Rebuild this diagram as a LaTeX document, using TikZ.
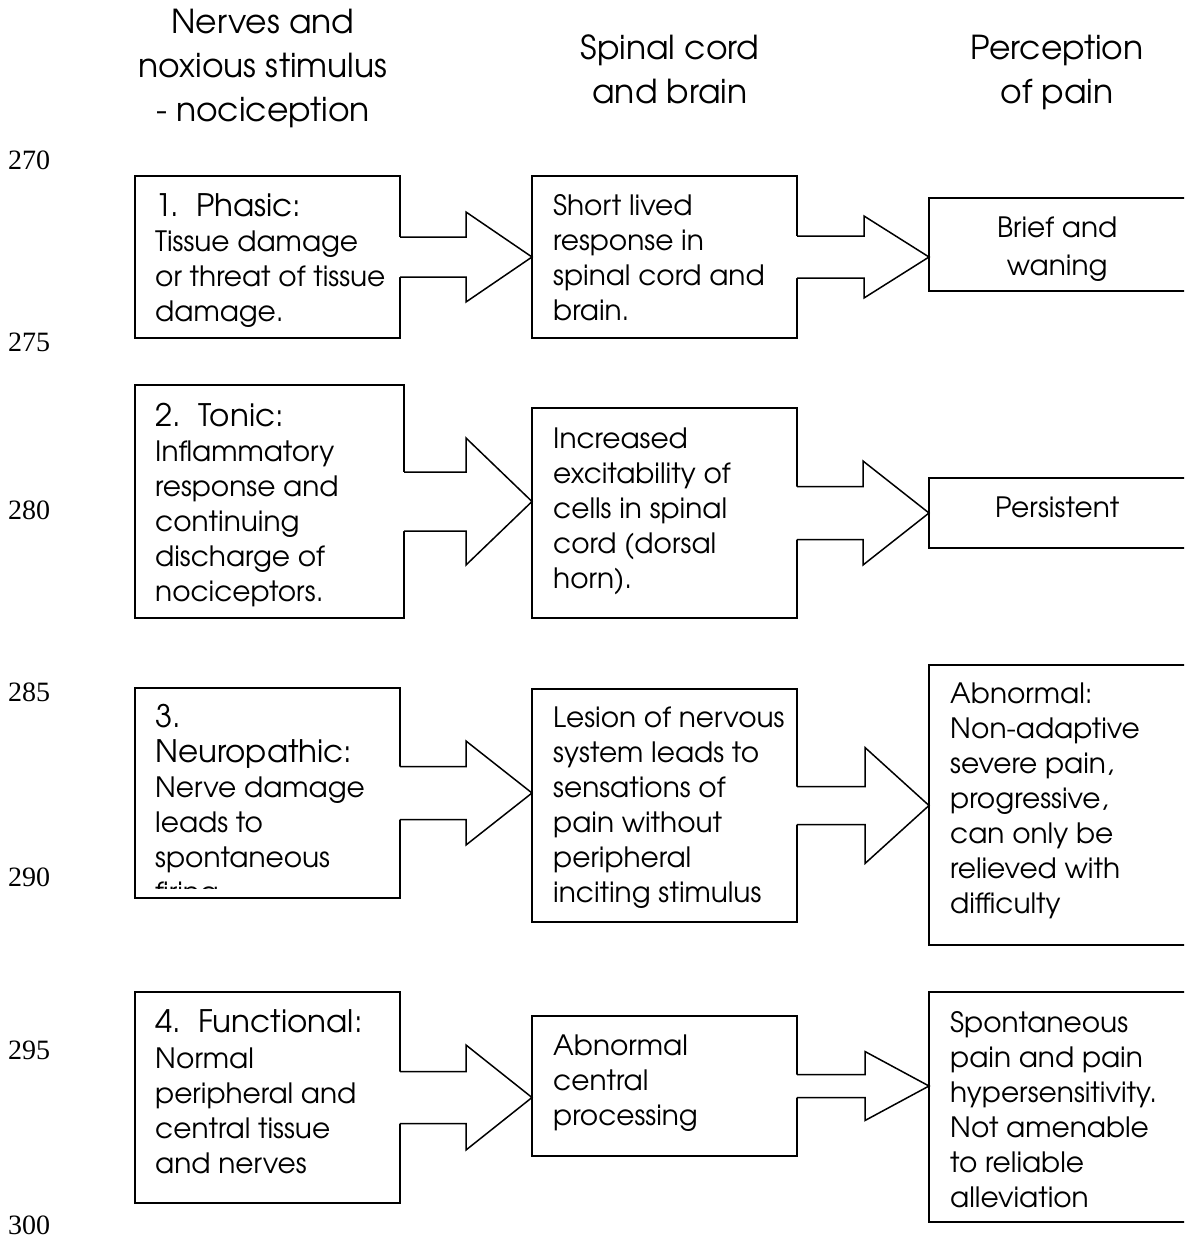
\documentclass[tikz,border=0pt]{standalone}
\usepackage{fontspec}
\setmainfont{texgyreadventor}[Extension=.otf, UprightFont=*-regular]
\newfontfamily\numfont{Liberation Serif}
\usetikzlibrary{calc}

% body text, headings of the left boxes, column titles
\newcommand{\bodyfont}{\fontsize{28}{35}\selectfont}
\newcommand{\hd}[1]{{\fontsize{31}{35}\selectfont #1}}
\newcommand{\boxtext}[2]{\parbox[t]{#1pt}{\bodyfont\raggedright #2}}
\newcommand{\ctrtext}[2]{\parbox[t]{#1pt}{\bodyfont\centering #2}}

\tikzset{
  panel/.style={draw, line width=1.5pt, inner sep=0pt, outer sep=0pt,
                anchor=north west, fill=white},
  arrowline/.style={line width=1.5pt, line join=miter},
  txt/.style={inner sep=0pt, anchor=base west},
  coltitle/.style={inner sep=0pt, align=center,
                   font=\fontsize{33}{44}\selectfont},
  lineno/.style={inner sep=0pt, anchor=west,
                 font=\numfont\fontsize{28}{28}\selectfont}
}

% block arrow from box #1 to box #2: shaft half height #3, head half height #4, head length #5
\newcommand{\fatarrow}[5]{%
  \fill[white] let \p1=(#1.east), \p2=(#1.east -| #2.west) in
    ({\x1-1pt},{\y1+#3pt}) -- ({\x2-#5pt},{\y1+#3pt}) -- ({\x2-#5pt},{\y1+#4pt})
    -- (\p2) -- ({\x2-#5pt},{\y1-#4pt}) -- ({\x2-#5pt},{\y1-#3pt})
    -- ({\x1-1pt},{\y1-#3pt}) -- cycle;
  \draw[arrowline] let \p1=(#1.east), \p2=(#1.east -| #2.west) in
    ({\x1},{\y1+#3pt}) -- ({\x2-#5pt},{\y1+#3pt}) -- ({\x2-#5pt},{\y1+#4pt})
    -- (\p2) -- ({\x2-#5pt},{\y1-#4pt}) -- ({\x2-#5pt},{\y1-#3pt})
    -- ({\x1},{\y1-#3pt});
}

\begin{document}
\begin{tikzpicture}[x=1pt,y=-1pt]
\useasboundingbox[fill=white] (0,0) rectangle (1184,1248);
\clip (0,0) rectangle (1184,1248);

% column titles
\node[coltitle] (T1) at (263,68) {Nerves and\\noxious stimulus\\- nociception};
\node[coltitle] (T2) at (670,69) {Spinal cord\\and brain};
\node[coltitle] (T3) at (1057,72) {Perception\\of pain};

% manuscript line numbers
\node[lineno] (n270) at (8,160) {270};
\node[lineno] (n275) at (8,342) {275};
\node[lineno] (n280) at (8,510) {280};
\node[lineno] (n285) at (8,692) {285};
\node[lineno] (n290) at (8,877) {290};
\node[lineno] (n295) at (8,1050) {295};
\node[lineno] (n300) at (8,1225) {300};

% left column
\node[panel, minimum width=265pt, minimum height=162pt] (L1) at (135,176) {};
\node[panel, minimum width=269pt, minimum height=233pt] (L2) at (135,385) {};
\node[panel, minimum width=265pt, minimum height=210pt] (L3) at (135,688) {};
\node[panel, minimum width=265pt, minimum height=211pt] (L4) at (135,992) {};
% middle column
\node[panel, minimum width=265pt, minimum height=162pt] (M1) at (532,176) {};
\node[panel, minimum width=265pt, minimum height=210pt] (M2) at (532,408) {};
\node[panel, minimum width=265pt, minimum height=233pt] (M3) at (532,689) {};
\node[panel, minimum width=265pt, minimum height=140pt] (M4) at (532,1016) {};
% right column (runs past the right margin)
\node[panel, minimum width=262pt, minimum height=93pt] (R1) at (929,198) {};
\node[panel, minimum width=262pt, minimum height=70pt] (R2) at (929,478) {};
\node[panel, minimum width=262pt, minimum height=280pt] (R3) at (929,665) {};
\node[panel, minimum width=262pt, minimum height=230pt] (R4) at (929,992) {};

% block arrows
\fatarrow{L1}{M1}{20}{45}{66}
\fatarrow{M1}{R1}{21}{41}{65}
\fatarrow{L2}{M2}{29.5}{63.5}{66}
\fatarrow{M2}{R2}{26.5}{52}{66}
\fatarrow{L3}{M3}{26.5}{52}{66}
\fatarrow{M3}{R3}{19}{58}{64}
\fatarrow{L4}{M4}{26}{52.5}{66}
\fatarrow{M4}{R4}{11.5}{34.5}{64}

% texts of the left column
\node[txt] (L1t) at ($(L1.north west)+(20,40)$) {\boxtext{250}{\hd{1.\ \ Phasic:}\\Tissue damage\\or threat of tissue\\damage.}};
\node[txt] (L2t) at ($(L2.north west)+(20,41)$) {\boxtext{250}{\hd{2.\ \ Tonic:}\\Inflammatory\\response and\\continuing\\discharge of\\nociceptors.}};
\begin{scope}
  % the last line overflows the box and is cut off at its lower edge
  \clip ($(L3.north west)+(1,1)$) rectangle ($(L3.south east)+(-1,-10)$);
  \node[txt] (L3t) at ($(L3.north west)+(20,39)$) {\boxtext{250}{\hd{3.}\\\hd{Neuropathic:}\\Nerve damage\\leads to\\spontaneous\\firing.}};
\end{scope}
\node[txt] (L4t) at ($(L4.north west)+(20,40)$) {\boxtext{250}{\hd{4.\ \ Functional:}\\[1pt]Normal\\peripheral and\\central tissue\\and nerves}};

% texts of the middle column
\node[txt] (M1t) at ($(M1.north west)+(21,39)$) {\boxtext{250}{Short lived\\response in\\spinal cord and\\brain.}};
\node[txt] (M2t) at ($(M2.north west)+(21,40)$) {\boxtext{250}{Increased\\excitability of\\cells in spinal\\cord (dorsal\\horn).}};
\node[txt] (M3t) at ($(M3.north west)+(21,38)$) {\boxtext{250}{Lesion of nervous\\system leads to\\sensations of\\pain without\\peripheral\\inciting stimulus}};
\node[txt] (M4t) at ($(M4.north west)+(21,39)$) {\boxtext{250}{Abnormal\\central\\processing}};

% texts of the right column
\node[txt] (R1t) at ($(R1.north west)+(0,39)$) {\ctrtext{256}{Brief and\\[3pt]waning}};
\node[txt] (R2t) at ($(R2.north west)+(0,39)$) {\ctrtext{256}{Persistent}};
\node[txt] (R3t) at ($(R3.north west)+(21,38)$) {\boxtext{240}{Abnormal:\\Non-adaptive\\severe pain,\\progressive,\\can only be\\relieved with\\difficulty}};
\node[txt] (R4t) at ($(R4.north west)+(21,40)$) {\boxtext{240}{Spontaneous\\pain and pain\\hypersensitivity.\\Not amenable\\to reliable\\alleviation}};
\end{tikzpicture}
\end{document}
